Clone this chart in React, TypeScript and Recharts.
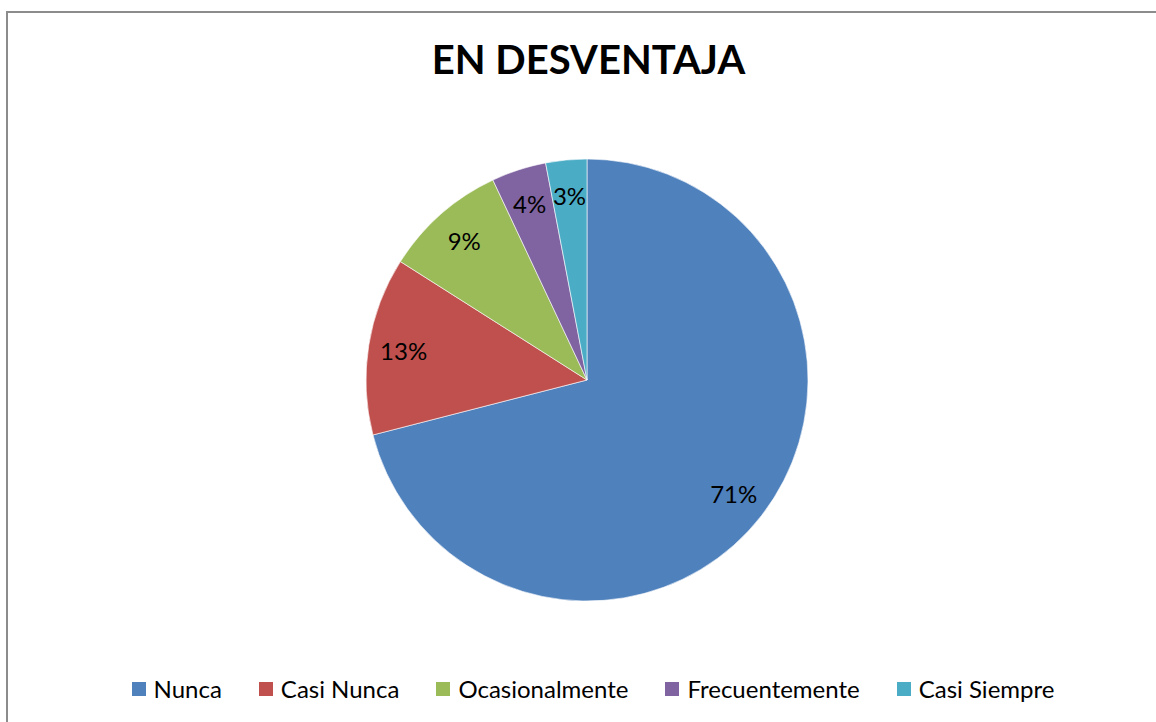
import React from "react";
import { PieChart, Pie, Cell, Legend } from "recharts";

const categories = ["Nunca", "Casi Nunca", "Ocasionalmente", "Frecuentemente", "Casi Siempre"];
const shares = [71, 13, 9, 4, 3];
const colors = ["#4F81BD", "#C0504D", "#9BBB59", "#8064A2", "#4BACC6"];

const data = categories.map((name, i) => ({ name, value: shares[i] }));

const FONT = "Lato, 'Open Sans', sans-serif";
const RAD = Math.PI / 180;

function renderLabel(props: any) {
  const { cx, cy, midAngle, outerRadius, percent } = props;
  const r = outerRadius * 0.84;
  const x = cx + r * Math.cos(-midAngle * RAD);
  const y = cy + r * Math.sin(-midAngle * RAD);
  return (
    <text x={x} y={y} fill="#000" textAnchor="middle" dominantBaseline="central" fontSize={24} fontFamily={FONT}>
      {`${Math.round(percent * 100)}%`}
    </text>
  );
}

function LegendRow() {
  return (
    <div style={{ display: "flex", justifyContent: "center", alignItems: "center", fontFamily: FONT, fontSize: 24, color: "#000", lineHeight: "30px" }}>
      {categories.map((c, i) => (
        <div key={c} style={{ display: "flex", alignItems: "center", marginRight: i < categories.length - 1 ? 37 : 0 }}>
          <span style={{ width: 14, height: 14, background: colors[i], display: "inline-block", marginRight: 8 }} />
          <span>{c}</span>
        </div>
      ))}
    </div>
  );
}

export default function App() {
  return (
    <div style={{ position: "absolute", left: 0, top: 0, width: 1156, height: 722, overflow: "hidden", background: "#fff" }}>
      <div style={{ position: "absolute", left: 6, top: 11, width: 1300, height: 900, border: "2px solid #8c8c8c" }} />
      <div style={{ position: "absolute", left: 0, top: 35, width: 1177, textAlign: "center", fontFamily: FONT, fontWeight: 700, fontSize: 40, color: "#000" }}>
        EN DESVENTAJA
      </div>
      <PieChart
        width={1156}
        height={722}
        margin={{ top: 0, right: 0, bottom: 0, left: 0 }}
        style={{ position: "absolute", left: 0, top: 0 }}
      >
        <Pie
          data={data}
          dataKey="value"
          nameKey="name"
          cx={587}
          cy={380}
          outerRadius={221}
          startAngle={90}
          endAngle={-270}
          stroke="#ffffff"
          strokeWidth={0.6}
          label={renderLabel}
          labelLine={false}
          isAnimationActive={false}
        >
          {data.map((d, i) => (
            <Cell key={d.name} fill={colors[i]} />
          ))}
        </Pie>
        <Legend
          content={() => <LegendRow />}
          wrapperStyle={{ position: "absolute", left: 0, top: 674, width: 1186 }}
        />
      </PieChart>
    </div>
  );
}
